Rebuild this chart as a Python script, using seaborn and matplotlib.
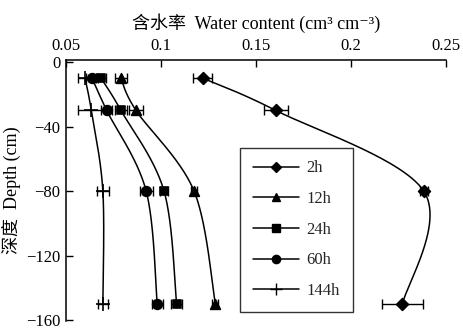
import numpy as np
import pandas as pd
import matplotlib
matplotlib.use("Agg")
import matplotlib.pyplot as plt
from matplotlib.lines import Line2D
import seaborn as sns

# ---- data ----
depths = [-10, -30, -80, -150]
series = ["2h", "12h", "24h", "60h", "144h"]
wc_2h = [0.1219, 0.1603, 0.2383, 0.2271]
wc_12h = [0.0789, 0.0868, 0.1174, 0.1286]
wc_24h = [0.0684, 0.0789, 0.1016, 0.1082]
wc_60h = [0.0637, 0.0714, 0.0922, 0.0980]
wc_144h = [0.0600, 0.0633, 0.0694, 0.0694]
err_2h = [0.005, 0.0063, 0.002, 0.011]
err_12h = [0.003, 0.0035, 0.0015, 0.0015]
err_24h = [0.0025, 0.003, 0.002, 0.003]
err_60h = [0.003, 0.003, 0.0035, 0.003]
err_144h = [0.0035, 0.007, 0.003, 0.0025]
xticks = [0.05, 0.1, 0.15, 0.2, 0.25]
xticklabels = ["0.05", "0.1", "0.15", "0.2", "0.25"]
yticks = [0, -40, -80, -120, -160]

values = [wc_2h, wc_12h, wc_24h, wc_60h, wc_144h]
errors = [err_2h, err_12h, err_24h, err_60h, err_144h]
markers = ["D", "^", "s", "o", "+"]
msizes = [6, 7, 6, 7, 10]

rows = []
for s, v, e in zip(series, values, errors):
    for d, vv, ee in zip(depths, v, e):
        rows.append({"series": s, "depth": d, "wc": vv, "err": ee})
df = pd.DataFrame(rows)

XLIM = (0.05, 0.25)
YLIM = (-160.5, 1.2)
AX_W, AX_H = 380, 261


def smooth_path(xv, yv, n=60, t=1 / 6):
    """Catmull-Rom style Bezier smoothing (for drawing the connecting line)."""
    px = (np.asarray(xv) - XLIM[0]) / (XLIM[1] - XLIM[0]) * AX_W
    py = (np.asarray(yv) - YLIM[0]) / (YLIM[1] - YLIM[0]) * AX_H
    P = np.column_stack([px, py])
    m = len(P)
    out = []
    for i in range(m - 1):
        p0 = P[i - 1] if i > 0 else P[i]
        p1, p2 = P[i], P[i + 1]
        p3 = P[i + 2] if i + 2 < m else P[i + 1]
        c1 = p1 + (p2 - p0) * t
        c2 = p2 - (p3 - p1) * t
        u = np.linspace(0, 1, n)[:, None]
        seg = ((1 - u) ** 3) * p1 + 3 * ((1 - u) ** 2) * u * c1 \
            + 3 * (1 - u) * u ** 2 * c2 + u ** 3 * p2
        out.append(seg if i == 0 else seg[1:])
    Q = np.vstack(out)
    qx = Q[:, 0] / AX_W * (XLIM[1] - XLIM[0]) + XLIM[0]
    qy = Q[:, 1] / AX_H * (YLIM[1] - YLIM[0]) + YLIM[0]
    return qx, qy


sns.set_theme(style="white")
plt.rcParams["font.family"] = ["Liberation Serif", "DejaVu Serif", "Noto Sans CJK SC"]
plt.rcParams["axes.unicode_minus"] = True

fig = plt.figure(figsize=(4.63, 3.33), dpi=100)
ax = fig.add_axes([66 / 463, 1 - 321 / 333, AX_W / 463, AX_H / 333])

handles = []
for s, m, ms in zip(series, markers, msizes):
    sub = df[df.series == s]
    qx, qy = smooth_path(sub.wc.values, sub.depth.values)
    curve = pd.DataFrame({"wc": qx, "depth": qy})
    sns.lineplot(data=curve, x="wc", y="depth", sort=False, estimator=None,
                 color="black", lw=1.1, ax=ax, legend=False)
    ax.errorbar(sub.wc, sub.depth, xerr=sub.err, fmt="none", ecolor="black",
                elinewidth=1.0, capsize=3.5, capthick=1.0)
    sns.scatterplot(data=sub, x="wc", y="depth", marker=m, s=ms**2,
                    color="black", edgecolor="black", linewidth=1.2,
                    ax=ax, legend=False, zorder=5)
    handles.append(Line2D([0], [0], color="black", lw=1.1, marker=m,
                          markersize=ms * 0.85, markerfacecolor="black",
                          markeredgecolor="black", label=s))

ax.set_xlim(*XLIM)
ax.set_ylim(*YLIM)
ax.xaxis.tick_top()
ax.xaxis.set_label_position("top")
ax.set_xticks(xticks)
ax.set_xticklabels(xticklabels)
ax.set_yticks(yticks)
ax.set_yticklabels(["0" if t == 0 else "\u2212%d" % (-t) for t in yticks])
ax.tick_params(axis="both", direction="in", length=5, width=1, color="black",
               labelsize=12, labelcolor="black")
ax.tick_params(axis="x", top=True, bottom=False, pad=4)
ax.tick_params(axis="y", left=True, pad=4)
for side in ["right", "bottom"]:
    ax.spines[side].set_visible(False)
for side in ["top", "left"]:
    ax.spines[side].set_color("black")
    ax.spines[side].set_linewidth(1.1)

ax.set_xlabel("含水率  Water content (cm\u00b3 cm\u207b\u00b3)", fontsize=13,
              labelpad=7, color="black")
ax.set_ylabel("深度  Depth (cm)", fontsize=13, labelpad=4, color="black")

leg = ax.legend(handles=handles, loc="upper left",
                bbox_to_anchor=(174 / AX_W, 173 / AX_H), borderaxespad=0,
                frameon=True, fancybox=False, edgecolor="black",
                fontsize=12, handlelength=2.8, handletextpad=0.45,
                labelspacing=0.88, borderpad=0.75)
leg.get_frame().set_linewidth(1.0)

fig.savefig("out.png", dpi=100, facecolor="white")
